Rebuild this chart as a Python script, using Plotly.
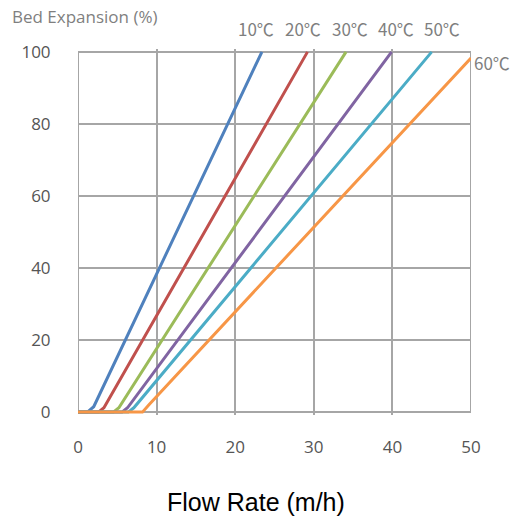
import plotly.graph_objects as go

# ---- data ----
temps = ["10℃", "20℃", "30℃", "40℃", "50℃", "60℃"]
flow_10 = [0, 1.2, 2.0, 23.4]
exp_10 = [0, 0, 1.5, 100]
flow_20 = [0, 2.6, 3.3, 29.2]
exp_20 = [0, 0, 1.2, 100]
flow_30 = [0, 4.5, 5.2, 34.1]
exp_30 = [0, 0, 1.2, 100]
flow_40 = [0, 5.6, 6.3, 39.9]
exp_40 = [0, 0, 1.2, 100]
flow_50 = [0, 6.4, 7.1, 45.0]
exp_50 = [0, 0, 1.2, 100]
flow_60 = [0, 8.2, 9.0, 50.0]
exp_60 = [0, 0, 2.0, 98.3]
x_ticks = [0, 10, 20, 30, 40, 50]
y_ticks = [0, 20, 40, 60, 80, 100]

series = [(flow_10, exp_10), (flow_20, exp_20), (flow_30, exp_30),
          (flow_40, exp_40), (flow_50, exp_50), (flow_60, exp_60)]
colors = ["#4F81BD", "#C0504D", "#9BBB59", "#8064A2", "#4BACC6", "#F79646"]

fig = go.Figure()
for (fx, ey), name, c in zip(series, temps, colors):
    fig.add_trace(go.Scatter(x=fx, y=ey, mode="lines", name=name,
                             line=dict(color=c, width=3), showlegend=False))

grid = "#a6a6a6"
tickfont = dict(family="Open Sans", size=17, color="#555555")
fig.update_xaxes(range=[0, 50], tickvals=x_ticks, showgrid=True, gridcolor=grid,
                 gridwidth=2, zeroline=False, showline=False, automargin=False,
                 ticks="outside", ticklen=17, tickcolor="rgba(0,0,0,0)",
                 tickfont=tickfont)
fig.update_yaxes(range=[-0.8, 100.8], tickvals=y_ticks, showgrid=True, gridcolor=grid,
                 gridwidth=2, zeroline=False, showline=False, automargin=False,
                 ticks="outside", ticklen=23, tickcolor="rgba(0,0,0,0)",
                 tickfont=tickfont)

fig.add_shape(type="rect", xref="x", yref="y", x0=0, x1=50, y0=0, y1=100,
              line=dict(color=grid, width=2), layer="below")

labfont = dict(family="Noto Sans CJK KR", size=17, color="#7f7f7f")
# temperature labels
label_px = [256, 303, 350, 396, 442]
for t, px in zip(temps[:5], label_px):
    fig.add_annotation(xref="paper", yref="paper", x=(px - 78) / 393, y=1.0,
                       xanchor="center", yanchor="middle", text=t, showarrow=False,
                       yshift=21, font=labfont)
fig.add_annotation(xref="paper", yref="y", x=1.0, y=97, xanchor="left",
                   text=temps[5], showarrow=False, xshift=1, font=labfont)

fig.add_annotation(xref="paper", yref="paper", x=-68 / 393, y=1.0, xanchor="left",
                   yanchor="middle", yshift=33, text="Bed Expansion (%)", showarrow=False,
                   font=dict(family="Open Sans", size=17, color="#7f7f7f"))
fig.add_annotation(xref="paper", yref="paper", x=(256 - 78) / 393, y=0, xanchor="center",
                   yanchor="middle", yshift=-87, text="Flow Rate (m/h)", showarrow=False,
                   font=dict(family="Liberation Sans", size=25, color="#000000"))

fig.update_layout(width=514, height=516, plot_bgcolor="white", paper_bgcolor="white",
                  margin=dict(l=78, r=43, t=49, b=101))

fig.write_html("out.html", config={"displayModeBar": False})

# remove the default page margin so the figure fills the window exactly
with open("out.html", "r", encoding="utf-8") as f:
    html = f.read()
html = html.replace("<head>", "<head><style>html,body{margin:0;padding:0;overflow:hidden}</style>", 1)
with open("out.html", "w", encoding="utf-8") as f:
    f.write(html)
